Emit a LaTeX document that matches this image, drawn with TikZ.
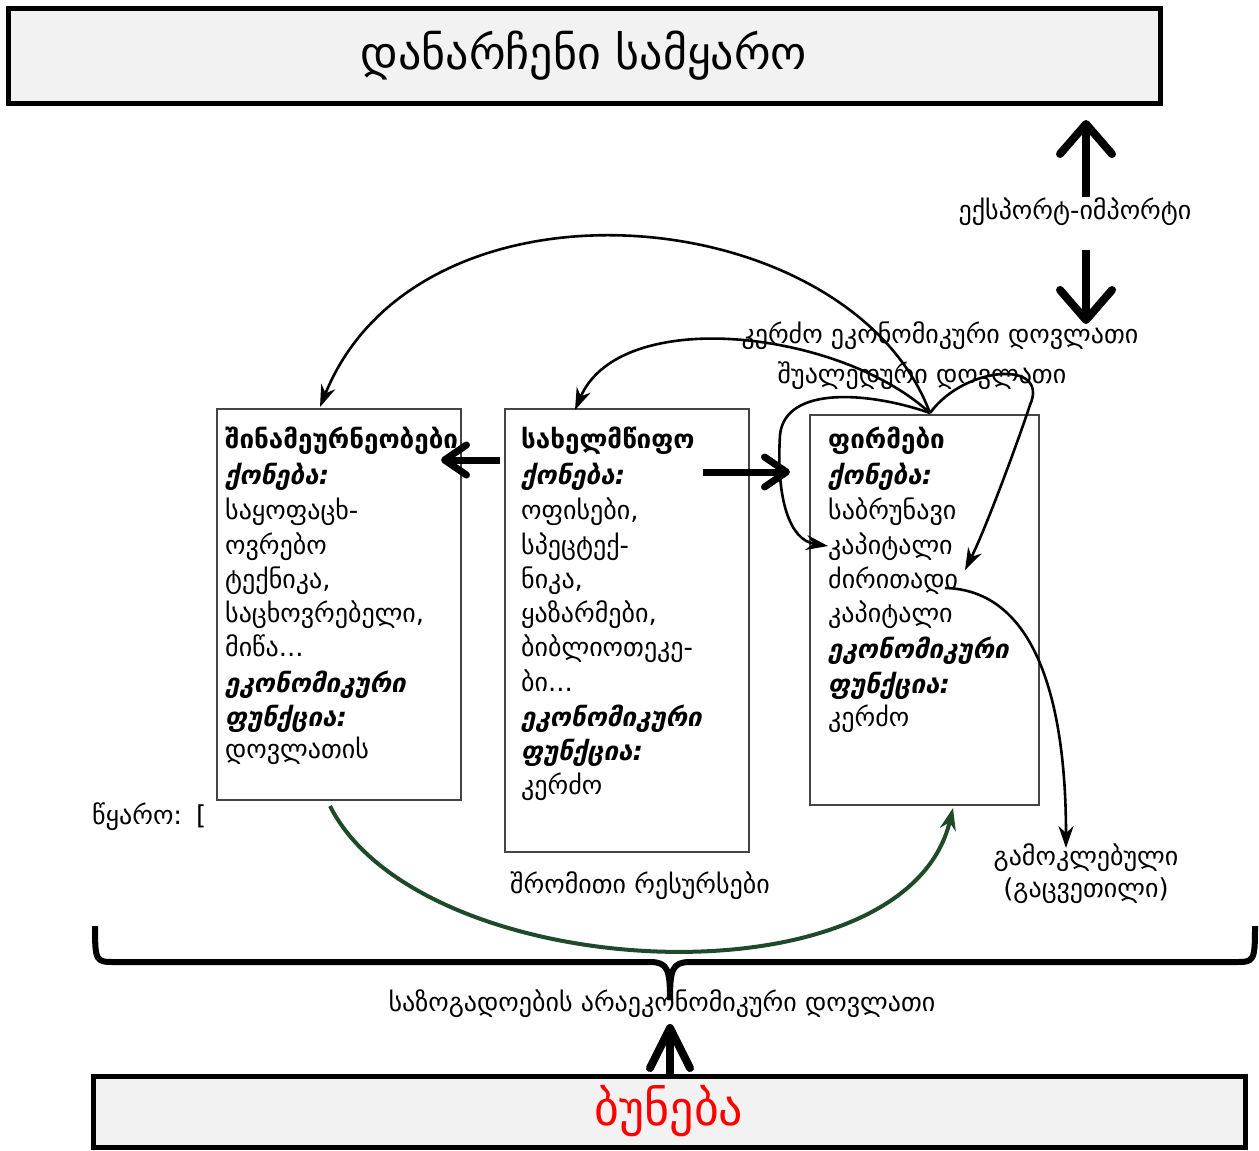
\documentclass[tikz,border=0pt]{standalone}
\usepackage{fontspec}
\setmainfont{DejaVu Sans}
\usetikzlibrary{arrows.meta}
\definecolor{boxgray}{HTML}{F2F2F2}
\definecolor{frameg}{HTML}{444444}
\definecolor{darkgreen}{HTML}{1E4A2A}
\tikzset{
  bigbox/.style={draw=black, line width=5pt, fill=boxgray, inner sep=0pt},
  infobox/.style={draw=frameg, line width=1.2pt, inner sep=0pt},
  ln/.style={anchor=base west, inner sep=0pt, font=\fontsize{26}{30}\selectfont},
  hd/.style={ln, font=\fontsize{26}{30}\selectfont\bfseries},
  it/.style={ln, font=\fontsize{26}{30}\selectfont\bfseries\itshape},
  lbl/.style={inner sep=0pt, font=\fontsize{26}{32}\selectfont},
  fat/.style={line width=8pt, -{Straight Barb[length=30pt,width=52pt,line cap=round,line join=round]}},
  fath/.style={line width=7pt, -{Straight Barb[length=22pt,width=30pt,line cap=round,line join=round]}},
  fatn/.style={line width=8pt, -{Straight Barb[length=40pt,width=40pt,line cap=round,line join=round]}},
  thin/.style={line width=2.6pt, -{Stealth[length=22pt,width=15pt]}},
}
\begin{document}
\begin{tikzpicture}[x=1pt,y=-1pt]
\useasboundingbox (0,0) rectangle (1259,1151);
% top and bottom boxes
\node[bigbox, minimum width=1152pt, minimum height=95pt] (world) at (584,55.5)
  {\fontsize{46}{50}\selectfont დანარჩენი სამყარო};
\node[bigbox, minimum width=1152pt, minimum height=71pt] (nature) at (669,1111.5)
  {\fontsize{48}{50}\selectfont\color{red}ბუნება};
% info boxes
\node[infobox, minimum width=244pt, minimum height=391pt] (hh) at (339,604.5) {};
\node[infobox, minimum width=244pt, minimum height=443pt] (st) at (627,630.5) {};
\node[infobox, minimum width=229pt, minimum height=390pt] (fi) at (924.5,610) {};
% left box text
\node[hd] (h1) at (225,448) {შინამეურნეობები};
\node[it] (h2) at (225,484) {ქონება:};
\node[ln] (h3) at (225,519) {საყოფაცხ-};
\node[ln] (h4) at (225,554) {ოვრებო};
\node[ln] (h5) at (225,588) {ტექნიკა,};
\node[ln] (h6) at (225,622) {საცხოვრებელი,};
\node[ln] (h7) at (225,656) {მიწა...};
\node[it] (h8) at (225,692) {ეკონომიკური};
\node[it] (h9) at (225,726) {ფუნქცია:};
\node[ln] (h10) at (225,758) {დოვლათის};
% middle box text
\node[hd] (s1) at (521,448) {სახელმწიფო};
\node[it] (s2) at (521,484) {ქონება:};
\node[ln] (s3) at (521,519) {ოფისები,};
\node[ln] (s4) at (521,554) {სპეცტექ-};
\node[ln] (s5) at (521,588) {ნიკა,};
\node[ln] (s6) at (521,622) {ყაზარმები,};
\node[ln] (s7) at (521,656) {ბიბლიოთეკე-};
\node[ln] (s8) at (521,691) {ბი...};
\node[it] (s9) at (521,726) {ეკონომიკური};
\node[it] (s10) at (521,760) {ფუნქცია:};
\node[ln] (s11) at (521,794) {კერძო};
% right box text
\node[hd] (f1) at (828,448) {ფირმები};
\node[it] (f2) at (828,484) {ქონება:};
\node[ln] (f3) at (828,519) {საბრუნავი};
\node[ln] (f4) at (828,554) {კაპიტალი};
\node[ln] (f5) at (828,588) {ძირითადი};
\node[ln] (f6) at (828,622) {კაპიტალი};
\node[it] (f7) at (828,658) {ეკონომიკური};
\node[it] (f8) at (828,693) {ფუნქცია:};
\node[ln] (f9) at (828,726) {კერძო};
% labels
\node[lbl] (exim) at (1075,212) {ექსპორტ-იმპორტი};
\node[lbl] (priv) at (940,336) {კერძო ეკონომიკური დოვლათი};
\node[lbl] (inter) at (922,376) {შუალედური დოვლათი};
\node[lbl, anchor=west] (src) at (92,817) {წყარო:\hspace{14pt}[};
\node[lbl] (labor) at (640,886) {შრომითი რესურსები};
\node[lbl, align=center] (dep) at (1086,874) {გამოკლებული\\(გაცვეთილი)};
\node[lbl] (soc) at (662,1004) {საზოგადოების არაეკონომიკური დოვლათი};
% coordinates
\coordinate (upS) at (1086,197);
\coordinate (upE) at (1086,120);
\coordinate (dnS) at (1086,250);
\coordinate (dnE) at (1086,324);
\coordinate (natS) at (670,1074);
\coordinate (natE) at (670,1024);
\coordinate (top) at (930,413);
\coordinate (hhT) at (320,407);
\coordinate (stT) at (575,410);
\coordinate (kap) at (828,546);
\coordinate (dzi) at (965,570);
\coordinate (dziS) at (945,588);
\coordinate (depT) at (1066,848);
\coordinate (gS) at (330,806);
\coordinate (gE) at (953,808);
\coordinate (mlS) at (500,460);
\coordinate (mlE) at (441,460);
\coordinate (mrS) at (703,472);
\coordinate (mrE) at (790,472);
% fat arrows
\draw[fat] (upS) -- (upE);
\draw[fat] (dnS) -- (dnE);
\draw[fatn] (natS) -- (natE);
\draw[fath] (mlS) -- (mlE);
\draw[fath] (mrS) -- (mrE);
% brace
\draw[line width=6pt, line join=round] (95,926) .. controls (95,962) and (96,962) .. (115,962) -- (650,962) .. controls (668,962) and (670,970) .. (670,1000);
\draw[line width=6pt, line join=round] (1255,926) .. controls (1255,962) and (1254,962) .. (1235,962) -- (690,962) .. controls (672,962) and (670,970) .. (670,1000);
% curved arrows
\draw[thin] (top) .. controls (850,200) and (420,160) .. (hhT);
\draw[thin] (top) .. controls (840,330) and (620,305) .. (stT);
\draw[thin] (top) .. controls (965,365) and (1050,360) .. (1030,405) .. controls (1015,450) and (985,530) .. (dzi);
\draw[thin] (top) .. controls (870,392) and (785,385) .. (780,435) .. controls (776,500) and (790,540) .. (kap);
\draw[thin] (dziS) .. controls (1035,590) and (1066,700) .. (depT);
\draw[line width=4pt, darkgreen, -{Stealth[length=22pt,width=16pt]}] (gS) .. controls (420,985) and (905,1010) .. (gE);
\end{tikzpicture}
\end{document}
